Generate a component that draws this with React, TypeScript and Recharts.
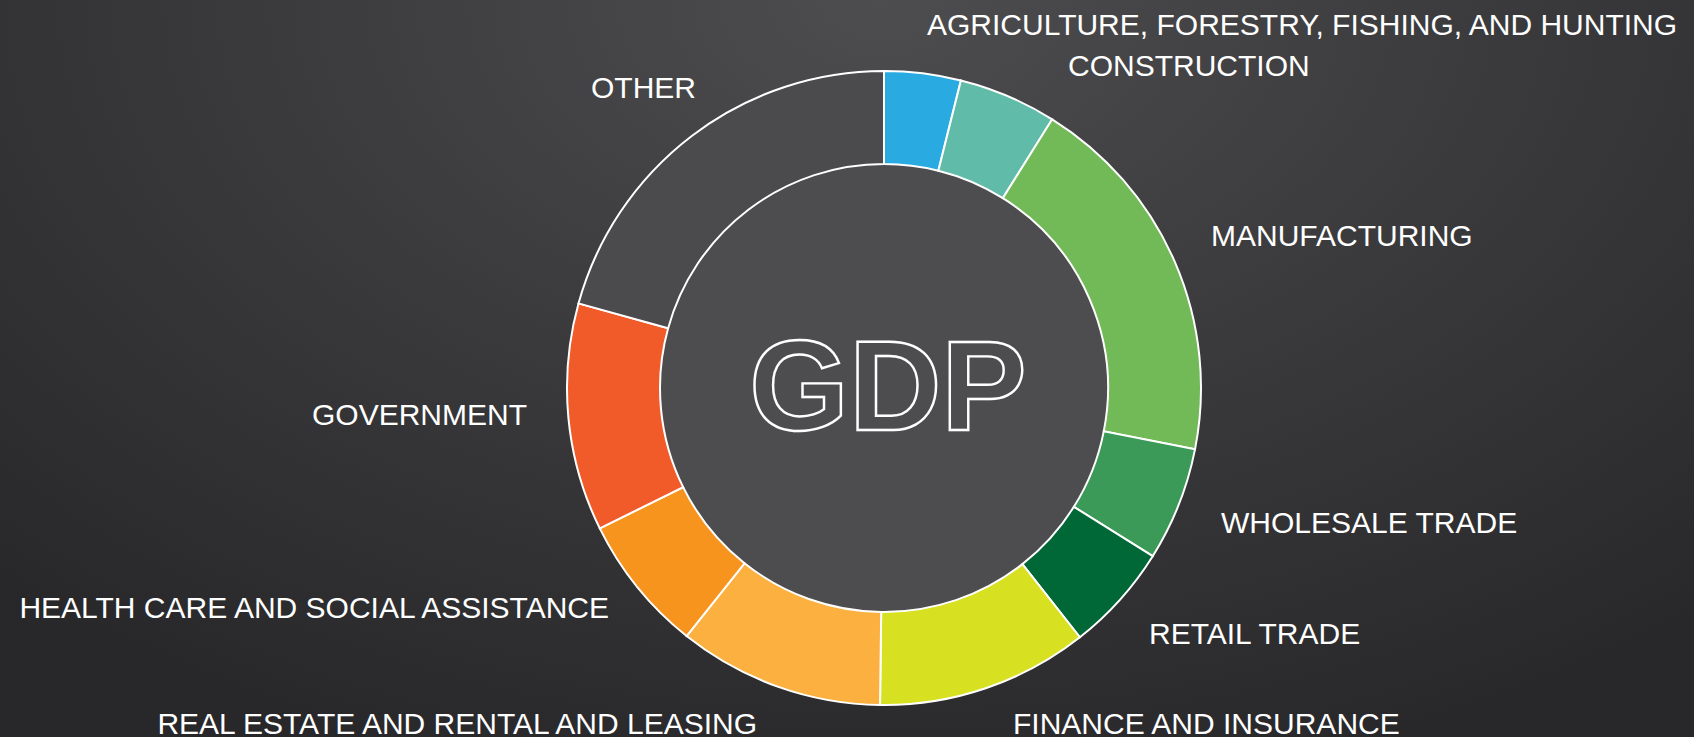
import { PieChart, Pie, Cell } from "recharts";

const SECTORS = [
  "AGRICULTURE, FORESTRY, FISHING, AND HUNTING",
  "CONSTRUCTION",
  "MANUFACTURING",
  "WHOLESALE TRADE",
  "RETAIL TRADE",
  "FINANCE AND INSURANCE",
  "REAL ESTATE AND RENTAL AND LEASING",
  "HEALTH CARE AND SOCIAL ASSISTANCE",
  "GOVERNMENT",
  "OTHER",
];

// share of GDP, percent
const SHARES = [3.9, 5.0, 19.2, 5.8, 5.5, 10.8, 10.5, 7.0, 11.6, 20.7];

const COLORS = [
  "#29abe2",
  "#60bca8",
  "#72b957",
  "#3b9a57",
  "#006837",
  "#d7e021",
  "#fbb040",
  "#f7941e",
  "#f15a29",
  "#4b4b4d",
];

// label placement relative to the ring centre
const LABEL_DX = [43, 184, 327, 337, 265, 129, -127, -275, -357, -293];
const LABEL_DY = [-353, -312, -142, 145, 256, 346, 346, 230, 37, -290];
const LABEL_ANCHOR = ["start", "start", "start", "start", "start", "start", "end", "end", "end", "start"];

const chartData = SECTORS.map((name, i) => ({ name, value: SHARES[i] }));
const centerData = [{ name: "GDP", value: 1 }];

const FONT = "'Liberation Sans', Arial, Helvetica, sans-serif";

const CX = 884;
const CY = 388;

function renderLabel(props: any) {
  const { cx, cy, index, name } = props;
  return (
    <text
      key={`lbl-${index}`}
      x={cx + LABEL_DX[index]}
      y={cy + LABEL_DY[index]}
      textAnchor={LABEL_ANCHOR[index]}
      fill="#ffffff"
      fontSize={30}
      fontFamily={FONT}
    >
      {name}
    </text>
  );
}

function renderCenter(props: any) {
  const { cx, cy } = props;
  return (
    <text
      x={cx + 4}
      y={cy + 42}
      textAnchor="middle"
      fill="#4d4d4f"
      stroke="#ffffff"
      strokeWidth={2.4}
      fontSize={128}
      fontWeight="bold"
      fontFamily={FONT}
    >
      GDP
    </text>
  );
}

export default function App() {
  return (
    <div
      style={{
        position: "absolute",
        left: 0,
        top: 0,
        width: 1694,
        height: 737,
        overflow: "hidden",
        background:
          "radial-gradient(ellipse 75% 110% at 52% 0%, #4d4d4f 0%, #3a3a3c 50%, #28282a 100%)",
      }}
    >
      <PieChart
        width={1694}
        height={737}
        margin={{ top: 0, right: 0, bottom: 0, left: 0 }}
      >
        <Pie
          data={centerData}
          dataKey="value"
          cx={CX}
          cy={CY}
          innerRadius={0}
          outerRadius={224}
          fill="#4d4d4f"
          stroke="none"
          label={renderCenter}
          labelLine={false}
          isAnimationActive={false}
        />
        <Pie
          data={chartData}
          dataKey="value"
          nameKey="name"
          cx={CX}
          cy={CY}
          innerRadius={224}
          outerRadius={317}
          startAngle={90}
          endAngle={-270}
          stroke="#ffffff"
          strokeWidth={2}
          label={renderLabel}
          labelLine={false}
          isAnimationActive={false}
        >
          {chartData.map((_, i) => (
            <Cell key={`cell-${i}`} fill={COLORS[i]} />
          ))}
        </Pie>
      </PieChart>
    </div>
  );
}
